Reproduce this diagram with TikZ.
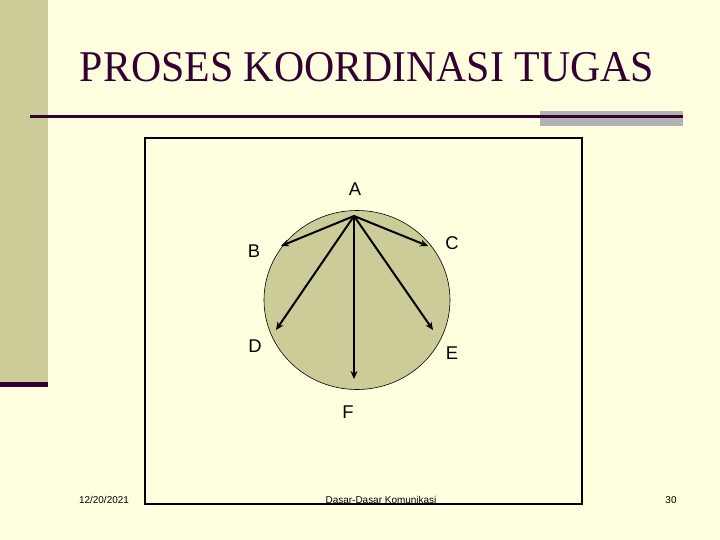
\documentclass[tikz,border=0pt]{standalone}
\usepackage{fontspec}
\setmainfont{Liberation Serif}
\newfontfamily\arialf{Liberation Sans}
\usetikzlibrary{arrows.meta}
\definecolor{bgyellow}{RGB}{255,255,224}
\definecolor{olive}{RGB}{204,204,153}
\definecolor{darkplum}{RGB}{51,0,51}
\definecolor{bargray}{RGB}{178,178,178}
\tikzset{
  lbl/.style={font=\arialf\fontsize{18.5}{20}\selectfont, text=black, inner sep=0pt},
  foot/.style={font=\arialf\fontsize{10}{12}\selectfont, text=black, inner sep=0pt, anchor=base},
  arr/.style={line width=2bp, -{Stealth[length=8bp,width=7bp]}},
}
\begin{document}
\begin{tikzpicture}[x=1bp,y=-1bp]
\useasboundingbox (0,0) rectangle (720,540);
\fill[bgyellow] (0,0) rectangle (720,540);
% left bar
\fill[olive] (0,0) rectangle (47.5,382);
\fill[darkplum] (0,382) rectangle (48,387);
% title rule
\fill[bargray] (540,111) rectangle (683,126);
\fill[darkplum] (30,115) rectangle (683,118);
% title
\node[font=\fontsize{42}{44}\selectfont, text=darkplum, inner sep=0pt, anchor=base, yscale=1.05] (title) at (367,82) {PROSES KOORDINASI TUGAS};
% frame
\draw[line width=1.1bp, black] (145,138) rectangle (582,504);
% circle
\fill[olive] (357,300) ellipse [x radius=93, y radius=89.5];
\draw[line width=0.6bp, black] (357,300) ellipse [x radius=93, y radius=89.5];
% points
\coordinate (pa) at (354,216);
\coordinate (pb) at (281,246);
\coordinate (pc) at (428,246);
\coordinate (pd) at (276,330);
\coordinate (pe) at (433,330);
\coordinate (pf) at (354,379);
\draw[arr] (pa) -- (pb);
\draw[arr] (pa) -- (pc);
\draw[arr] (pa) -- (pd);
\draw[arr] (pa) -- (pe);
\draw[arr] (pa) -- (pf);
% labels
\node[lbl] (la) at (355,189) {A};
\node[lbl] (lb) at (254,251) {B};
\node[lbl] (lc) at (452,243) {C};
\node[lbl] (ld) at (255,346) {D};
\node[lbl] (le) at (452,353) {E};
\node[lbl] (lf) at (348,412) {F};
% footer
\node[foot] (date) at (104,503) {12/20/2021};
\node[foot] (ftitle) at (381,503) {Dasar-Dasar Komunikasi};
\node[foot] (page) at (671,503) {30};
\end{tikzpicture}
\end{document}
